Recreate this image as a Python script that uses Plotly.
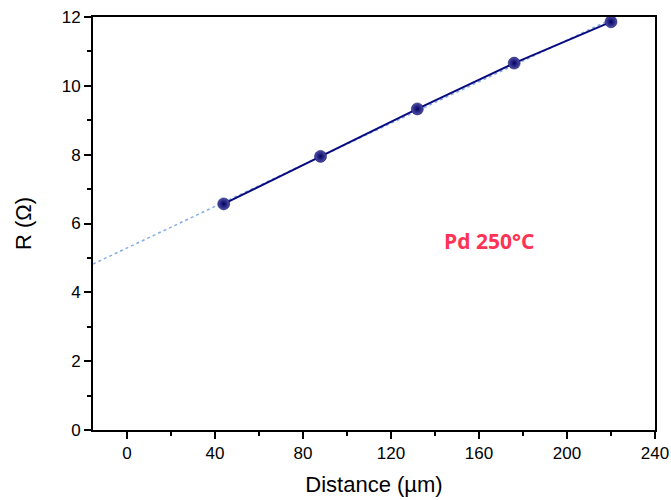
import numpy as np
import plotly.graph_objects as go

distance = [44, 88, 132, 176, 220]
resistance = [6.57, 7.95, 9.33, 10.66, 11.86]
x_ticks = [0, 40, 80, 120, 160, 200, 240]
y_ticks = [0, 2, 4, 6, 8, 10, 12]
label = "Pd 250°C"

slope, intercept = np.polyfit(distance, resistance, 1)
x_fit = np.array([-15.4, 220])
y_fit = slope * x_fit + intercept

fig = go.Figure()
fig.add_trace(go.Scatter(x=x_fit, y=y_fit, mode="lines",
                         line=dict(color="#86aee6", width=1.5, dash="dot"),
                         hoverinfo="skip", showlegend=False))
fig.add_trace(go.Scatter(x=distance, y=resistance, mode="lines+markers",
                         line=dict(color="#0a0a80", width=2),
                         marker=dict(size=12, color="#5050a8",
                                     gradient=dict(type="radial", color="#000060"),
                                     line=dict(width=0.5, color="#000050")),
                         showlegend=False))

fig.add_annotation(x=164.5, y=5.49, text="<b>" + label + "</b>", showarrow=False,
                   font=dict(family="Open Sans", size=21, color="#ff3355"))

axis_font = dict(family="Liberation Sans, Arial", size=17, color="black")
common = dict(ticks="outside", ticklen=7, tickwidth=2, tickcolor="black",
              showline=True, linecolor="black", linewidth=2, mirror=True,
              showgrid=False, zeroline=False, tickfont=axis_font, automargin=False)
fig.update_layout(
    width=671, height=500,
    margin=dict(l=93, r=16, t=17, b=70),
    plot_bgcolor="white", paper_bgcolor="white",
    font=dict(family="Liberation Sans, Arial", color="black"),
    xaxis=dict(range=[-15.4, 240], tickvals=x_ticks, **common,
               title=dict(text="Distance (µm)", font=dict(size=22), standoff=14),
               minor=dict(dtick=20, tick0=0, ticks="outside", ticklen=4,
                          tickwidth=2, tickcolor="black", showgrid=False)),
    yaxis=dict(range=[0, 12], tickvals=y_ticks, **common,
               title=dict(text="R (Ω)", font=dict(size=22), standoff=24),
               minor=dict(dtick=1, tick0=0, ticks="outside", ticklen=4,
                          tickwidth=2, tickcolor="black", showgrid=False)),
)
fig.write_html("out.html", config={"displayModeBar": False},
               post_script="document.body.style.margin='0px';")
